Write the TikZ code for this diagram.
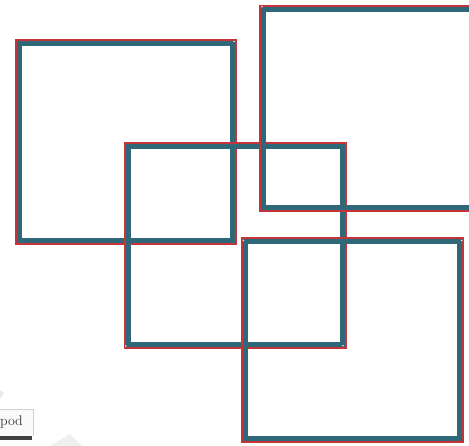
\documentclass[tikz,border=0pt]{standalone}
\usetikzlibrary{calc}
\definecolor{tealc}{RGB}{46,104,121}
\definecolor{redc}{RGB}{196,52,56}
\definecolor{frag}{RGB}{225,225,225}
\tikzset{
  sqred/.style={draw=redc,line width=7pt,line join=miter},
  sqteal/.style={draw=tealc,line width=5pt,line join=miter},
  cornerdot/.style={fill=white!85!gray,draw=none},
}
\newcommand\mysquare[4]{%
  \draw[sqred] (#1-1,#2-1) rectangle (#3+1,#4+1);
  \draw[sqteal] (#1,#2) rectangle (#3,#4);
}
\begin{document}
\begin{tikzpicture}[x=1pt,y=-1pt]
\useasboundingbox (0,0) rectangle (469,446);
\fill[white] (0,0) rectangle (469,446);
\begin{scope}
\clip (0,0) rectangle (469,446);
% fragment at lower left
\fill[frag,opacity=0.7] (0,390) -- (4,393) -- (0,399) -- cycle;
\fill[frag,opacity=0.5] (50,446) -- (70,434) -- (82,446) -- cycle;
\fill[white!96!gray] (0,409) rectangle (33,436);
\draw[gray!35,line width=0.8pt] (0,409) -- (33,409) -- (33,436);
\fill[black!75] (0,436) rectangle (32,440);
\node[anchor=base west,inner sep=0pt,font=\fontsize{14}{16}\selectfont,text=black!80] (podtxt) at (-4,426) {lpod};
% squares
\mysquare{19.3}{43.3}{232.5}{240.5}
\mysquare{128.2}{147}{342}{345}
\mysquare{263.7}{9.2}{477.2}{207.5}
\mysquare{245.8}{241.7}{459.2}{438.5}
% corner dots
\foreach \p in {(262,6.7),(243.5,240.5),(125.7,346),(343,345.7),(461.7,240.5),(234,41.5)}
  \fill[cornerdot] \p circle (0.9pt);
\end{scope}
\end{tikzpicture}
\end{document}
